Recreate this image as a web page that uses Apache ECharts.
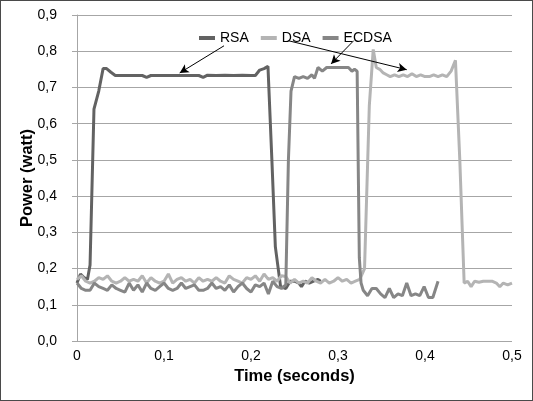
<!DOCTYPE html>
<html>
<head>
<meta charset="utf-8">
<script src="https://cdn.jsdelivr.net/npm/echarts@6/dist/echarts.min.js"></script>
<style>
html,body{margin:0;padding:0;background:#fff;}
#c{width:533px;height:401px;box-sizing:border-box;border:1px solid #4a4a4a;}
</style>
</head>
<body>
<div id="c"></div>
<script>
// Time (s) and power (W) for each series
const rsaT = [0,0.004,0.008,0.012,0.015,0.0195,0.025,0.030,0.034,0.039,0.044,0.05,0.06,0.07,0.075,0.08,0.085,0.09,0.1,0.11,0.12,0.13,0.14,0.145,0.15,0.16,0.17,0.18,0.19,0.2,0.205,0.21,0.215,0.2195,0.224,0.228,0.234,0.24,0.245,0.25,0.255,0.258,0.262,0.267,0.272,0.277,0.28];
const rsaV = [0.16,0.185,0.175,0.17,0.21,0.64,0.69,0.752,0.752,0.742,0.733,0.733,0.733,0.733,0.733,0.728,0.733,0.733,0.733,0.733,0.733,0.733,0.733,0.728,0.734,0.733,0.734,0.733,0.734,0.733,0.733,0.748,0.752,0.758,0.5,0.26,0.15,0.145,0.165,0.165,0.16,0.15,0.165,0.16,0.165,0.17,0.165];

const dsaT = [0,0.005,0.01,0.015,0.02,0.025,0.03,0.035,0.04,0.045,0.05,0.055,0.06,0.065,0.07,0.075,0.08,0.085,0.09,0.095,0.1,0.105,0.11,0.115,0.12,0.125,0.13,0.135,0.14,0.145,0.15,0.155,0.16,0.165,0.17,0.175,0.18,0.185,0.19,0.195,0.2,0.205,0.21,0.215,0.22,0.225,0.23,0.235,0.24,0.245,0.25,0.255,0.26,0.265,0.27,0.275,0.28,0.285,0.29,0.295,0.3,0.305,0.31,0.315,0.32,0.325,0.3305,0.336,0.3405,0.344,0.348,0.352,0.356,0.36,0.365,0.37,0.375,0.38,0.385,0.39,0.395,0.4,0.405,0.41,0.415,0.42,0.425,0.43,0.435,0.44,0.445,0.449,0.453,0.457,0.462,0.467,0.472,0.477,0.482,0.486,0.49,0.495,0.5];
const dsaV = [0.17,0.18,0.165,0.16,0.165,0.175,0.17,0.18,0.165,0.16,0.165,0.175,0.165,0.17,0.165,0.18,0.16,0.175,0.165,0.16,0.165,0.185,0.16,0.17,0.175,0.165,0.17,0.16,0.175,0.165,0.17,0.165,0.175,0.165,0.16,0.18,0.17,0.165,0.16,0.175,0.17,0.18,0.165,0.185,0.17,0.175,0.165,0.18,0.178,0.16,0.17,0.16,0.165,0.16,0.175,0.165,0.16,0.17,0.16,0.165,0.175,0.165,0.17,0.16,0.165,0.17,0.2,0.65,0.805,0.755,0.75,0.74,0.735,0.73,0.735,0.73,0.735,0.73,0.738,0.73,0.735,0.73,0.73,0.735,0.73,0.735,0.73,0.745,0.775,0.5,0.16,0.165,0.15,0.165,0.162,0.165,0.165,0.165,0.16,0.15,0.16,0.155,0.16];

const ecdsaT = [0,0.005,0.01,0.015,0.02,0.025,0.03,0.035,0.04,0.045,0.05,0.055,0.06,0.065,0.07,0.075,0.08,0.085,0.09,0.095,0.1,0.105,0.11,0.115,0.12,0.125,0.13,0.135,0.14,0.145,0.15,0.155,0.16,0.165,0.17,0.175,0.18,0.185,0.19,0.195,0.2,0.205,0.21,0.215,0.22,0.225,0.23,0.235,0.24,0.243,0.246,0.25,0.255,0.26,0.265,0.27,0.273,0.277,0.282,0.287,0.292,0.297,0.302,0.307,0.312,0.316,0.319,0.322,0.3245,0.3265,0.329,0.334,0.339,0.344,0.349,0.354,0.359,0.364,0.369,0.374,0.379,0.384,0.389,0.394,0.399,0.404,0.409,0.415];
const ecdsaV = [0.16,0.145,0.14,0.14,0.16,0.15,0.145,0.14,0.155,0.145,0.14,0.135,0.16,0.14,0.155,0.135,0.16,0.145,0.14,0.15,0.16,0.145,0.14,0.145,0.16,0.145,0.15,0.155,0.14,0.14,0.145,0.16,0.145,0.15,0.14,0.155,0.135,0.15,0.16,0.145,0.135,0.155,0.15,0.16,0.13,0.165,0.15,0.145,0.155,0.5,0.69,0.73,0.725,0.73,0.725,0.735,0.725,0.755,0.745,0.755,0.755,0.755,0.755,0.755,0.755,0.745,0.75,0.745,0.23,0.16,0.14,0.125,0.145,0.145,0.13,0.12,0.145,0.12,0.13,0.125,0.16,0.125,0.13,0.125,0.15,0.12,0.12,0.165];

// Annotation arrows: [fromT, fromV, toT, toV]
const arrowRSA = [0.169,0.815,0.118,0.740];
const arrowDSA = [0.243,0.829,0.379,0.749];
const arrowECDSA = [0.318,0.829,0.292,0.765];

const xTicks = {min:0,max:0.5,interval:0.1};
const yTicks = {min:0,max:0.9,interval:0.1};

function pairs(t,v){return t.map((x,i)=>[x,v[i]]);}
function arrow(a){return [{coord:[a[0],a[1]]},{coord:[a[2],a[3]]}];}

const chart = echarts.init(document.getElementById('c'));
const font = 'Liberation Sans';
chart.setOption({
  animation:false,
  grid:{left:76,right:20,top:14,bottom:59},
  legend:{
    left:193,top:25,itemWidth:16,itemHeight:4,itemGap:12,icon:'rect',
    textStyle:{fontFamily:font,fontSize:14,color:'#000'},
    data:['RSA','DSA','ECDSA']
  },
  xAxis:{
    type:'value',min:xTicks.min,max:xTicks.max,interval:xTicks.interval,
    name:'Time (seconds)',nameLocation:'middle',nameGap:25,
    nameTextStyle:{fontFamily:font,fontSize:16.5,fontWeight:'bold',color:'#000'},
    axisLine:{show:false},axisTick:{show:false},
    axisLabel:{margin:8,fontFamily:font,fontSize:14,color:'#000',
      formatter:v=>v===0?'0':v.toFixed(1).replace('.',',')},
    splitLine:{show:false}
  },
  yAxis:{
    type:'value',min:yTicks.min,max:yTicks.max,interval:yTicks.interval,
    name:'Power (watt)',nameLocation:'middle',nameGap:41,nameMoveOverlap:false,
    nameTextStyle:{fontFamily:font,fontSize:16.5,fontWeight:'bold',color:'#000'},
    axisLine:{show:true,lineStyle:{color:'#a6a6a6',width:1}},
    axisTick:{show:true,length:5,lineStyle:{color:'#a6a6a6'}},
    axisLabel:{margin:20,fontFamily:font,fontSize:14,color:'#000',
      formatter:v=>v.toFixed(1).replace('.',',')},
    splitLine:{show:true,lineStyle:{color:'#a6a6a6',width:1}}
  },
  series:[
    {name:'RSA',type:'line',data:pairs(rsaT,rsaV),showSymbol:false,symbol:'none',
     itemStyle:{color:'#626262'},lineStyle:{color:'#626262',width:3}},
    {name:'DSA',type:'line',data:pairs(dsaT,dsaV),showSymbol:false,symbol:'none',
     itemStyle:{color:'#b4b4b4'},lineStyle:{color:'#b4b4b4',width:3}},
    {name:'ECDSA',type:'line',data:pairs(ecdsaT,ecdsaV),showSymbol:false,symbol:'none',
     itemStyle:{color:'#868686'},lineStyle:{color:'#868686',width:3},
     markLine:{silent:true,symbol:['none','arrow'],symbolSize:[7,9],z:10,
       label:{show:false},lineStyle:{color:'#000',width:1,type:'solid'},
       emphasis:{disabled:true},
       data:[arrow(arrowRSA),arrow(arrowDSA),arrow(arrowECDSA)]}}
  ]
});
</script>
</body>
</html>
